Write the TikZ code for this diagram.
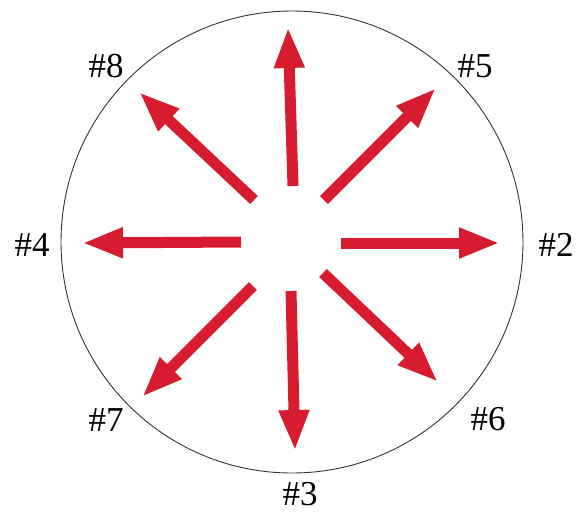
\documentclass[tikz,border=0pt]{standalone}
\usepackage{fontspec}
\setmainfont{Liberation Serif}
\usetikzlibrary{arrows.meta}
\definecolor{arrowred}{RGB}{215,28,48}
\tikzset{
  redarrow/.style={draw=arrowred, line width=11pt, -{Triangle[width=28pt,length=41pt]}, shorten >=0pt},
  lab/.style={font=\fontsize{35}{40}\selectfont, inner sep=0pt},
  rim/.style={draw=black!80, line width=0.9pt}
}
\begin{document}
\begin{tikzpicture}[x=1pt,y=-1pt]
\useasboundingbox (0,0) rectangle (578,512);
\node[rim, circle, minimum size=462pt, inner sep=0pt] (rimc) at (292,242) {};
% tails and tips
\coordinate (tU) at (293,186);   \coordinate (hU) at (288,27);
\coordinate (t5) at (324,200);   \coordinate (h5) at (436,88);
\coordinate (t2) at (341,243);   \coordinate (h2) at (500,243);
\coordinate (t6) at (323,273);   \coordinate (h6) at (438,382);
\coordinate (t3) at (291,291);   \coordinate (h3) at (295,451);
\coordinate (t7) at (253,286);   \coordinate (h7) at (142,397);
\coordinate (t4) at (241,242);   \coordinate (h4) at (82,243);
\coordinate (t8) at (254,200);   \coordinate (h8) at (139,92);
\foreach \a in {U,5,2,6,3,7,4,8} \draw[redarrow] (t\a) -- (h\a);
% labels
\node[lab] (l8) at (106,66) {\#8};
\node[lab] (l5) at (475,66) {\#5};
\node[lab] (l4) at (32,245) {\#4};
\node[lab] (l2) at (556,245) {\#2};
\node[lab] (l7) at (106,420) {\#7};
\node[lab] (l6) at (488,419) {\#6};
\node[lab] (l3) at (300,494) {\#3};
\end{tikzpicture}
\end{document}
